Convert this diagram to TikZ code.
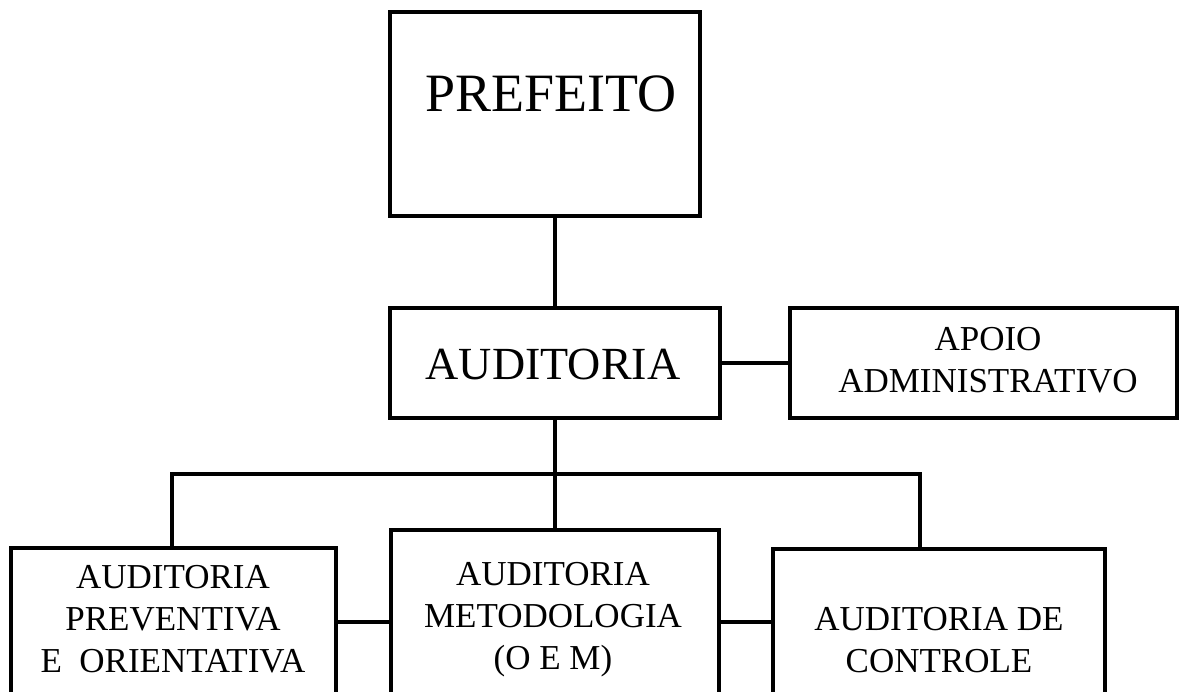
\documentclass[tikz,border=0pt]{standalone}
\usepackage{fontspec}
\setmainfont{Liberation Serif}
\begin{document}
\begin{tikzpicture}[x=1pt,y=-1pt,
  box/.style={draw, line width=4.5pt, rectangle, inner sep=0pt},
  conn/.style={line width=4.5pt},
  lbl/.style={inner sep=0pt, align=center, anchor=base},
  big/.style={font=\fontsize{54}{60}\selectfont},
  mid/.style={font=\fontsize{46}{52}\selectfont},
  small/.style={font=\fontsize{35}{42}\selectfont}]
\useasboundingbox (0,0) rectangle (1181,692);
\fill[white] (0,0) rectangle (1181,692);
\clip (0,0) rectangle (1181,692);
% boxes
\node[box, minimum width=310pt, minimum height=204pt] (pref) at (545,114) {};
\node[box, minimum width=330pt, minimum height=110pt] (aud) at (555,363) {};
\node[box, minimum width=387pt, minimum height=110pt] (apoio) at (983.5,363) {};
\node[box, minimum width=325pt, minimum height=192pt] (left) at (173.5,644) {};
\node[box, minimum width=328pt, minimum height=210pt] (midb) at (555,635) {};
\node[box, minimum width=332pt, minimum height=191pt] (right) at (939,644.5) {};
% texts (anchor base = baseline of last line)
\node[lbl, big] (tpref) at (551,112) {PREFEITO};
\node[lbl, mid] (taud) at (553,380) {AUDITORIA};
\node[lbl, small] (tapoio) at (988,393) {APOIO\\ADMINISTRATIVO};
\node[lbl, small] (tleft) at (173,672) {AUDITORIA\\PREVENTIVA\\E\ \ ORIENTATIVA};
\node[lbl, small] (tmid) at (553,669) {AUDITORIA\\METODOLOGIA\\(O E M)};
\node[lbl, small] (tright) at (939,672) {AUDITORIA DE\\CONTROLE};
% connectors
\coordinate (busL) at (172,474);
\coordinate (busR) at (920,474);
\coordinate (busM) at (555,474);
\coordinate (rowA) at (0,622);
\draw[conn] (aud.north) -- (aud.north |- pref.south);
\draw[conn] (aud.east) -- (apoio.west);
\draw[conn] (aud.south) -- (busM);
\draw[conn, line cap=rect] (busL) -- (busR);
\draw[conn] (busL) -- (busL |- left.north);
\draw[conn] (busM) -- (midb.north);
\draw[conn] (busR) -- (busR |- right.north);
\draw[conn] (left.east |- rowA) -- (midb.west |- rowA);
\draw[conn] (midb.east |- rowA) -- (right.west |- rowA);
\end{tikzpicture}
\end{document}
